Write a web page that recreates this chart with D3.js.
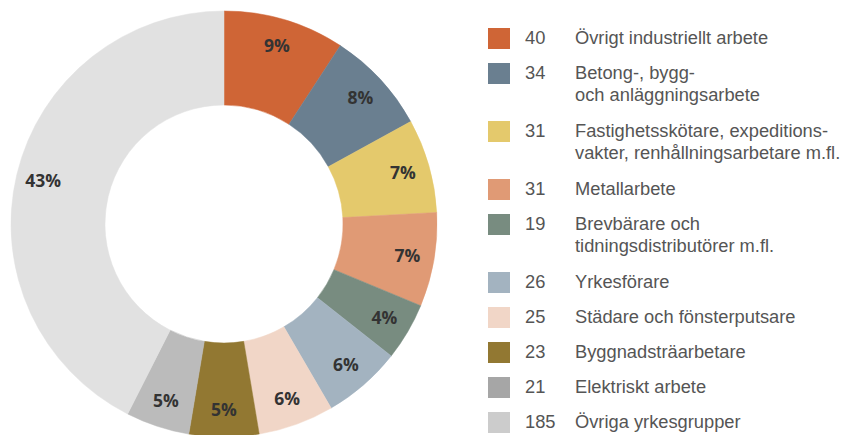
<!DOCTYPE html>
<html>
<head>
<meta charset="utf-8">
<script src="https://cdn.jsdelivr.net/npm/d3@7"></script>
<style>
  body { margin: 0; background: #fff; }
  svg { display: block; }
</style>
</head>
<body>
<svg class="chart"></svg>
<script>
let categories = [
    ["Övrigt industriellt arbete"],
    ["Betong-, bygg-", "och anläggningsarbete"],
    ["Fastighetsskötare, expeditions-", "vakter, renhållningsarbetare m.fl."],
    ["Metallarbete"],
    ["Brevbärare och", "tidningsdistributörer m.fl."],
    ["Yrkesförare"],
    ["Städare och fönsterputsare"],
    ["Byggnadsträarbetare"],
    ["Elektriskt arbete"],
    ["Övriga yrkesgrupper"]
];
let counts = [40, 34, 31, 31, 19, 26, 25, 23, 21, 185];
let percentLabels = ["9%", "8%", "7%", "7%", "4%", "6%", "6%", "5%", "5%", "43%"];

let sliceColors = ["#cf6536", "#6a7f90", "#e4c96c", "#e09a75", "#788c80",
                   "#a3b3c0", "#f1d6c7", "#927832", "#bbbbbb", "#e1e1e1"];
let legendColors = ["#cf6536", "#6a7f90", "#e4c96c", "#e09a75", "#788c80",
                    "#a3b3c0", "#f1d6c7", "#927832", "#a6a6a6", "#cccccc"];

let svgWidth = 845, svgHeight = 435;
let cx = 224, cy = 224, outerR = 213, innerR = 119, labelR = 186;

let data = counts.map(function (d, i) {
    return { name: categories[i], value: d, pct: percentLabels[i], i: i };
});

let svg = d3.select('.chart')
    .attr("width", svgWidth)
    .attr("height", svgHeight);

// donut
let g = svg.append("g")
    .attr("transform", "translate(" + cx + "," + cy + ")");

let pie = d3.pie().sort(null).value(function (d) { return d.value; });

let arc = d3.arc().outerRadius(outerR).innerRadius(innerR);
let labelArc = d3.arc().outerRadius(labelR).innerRadius(labelR);

let slices = g.selectAll(".slice")
    .data(pie(data))
    .enter()
    .append("g")
    .attr("class", "slice");

slices.append("path")
    .attr("d", arc)
    .attr("fill", function (d) { return sliceColors[d.data.i]; })
    .attr("stroke", function (d) { return sliceColors[d.data.i]; })
    .attr("stroke-width", 0.5);

slices.append("text")
    .attr("transform", function (d) { return "translate(" + labelArc.centroid(d) + ")"; })
    .attr("text-anchor", "middle")
    .attr("dy", "0.36em")
    .style("font-family", "'Open Sans', sans-serif")
    .style("font-weight", "bold")
    .style("font-size", "17.5px")
    .style("fill", "#333")
    .text(function (d) { return d.data.pct; });

// legend
let rowGap = 35, lineH = 22, extraLine = 23;
let rowY = [];
let y = 38;
data.forEach(function (d) {
    rowY.push(y);
    y += rowGap + (d.name.length - 1) * extraLine;
});

let legend = svg.append("g").attr("class", "legend");

let rows = legend.selectAll(".row")
    .data(data)
    .enter()
    .append("g")
    .attr("class", "row")
    .attr("transform", function (d, i) { return "translate(488," + rowY[i] + ")"; });

rows.append("rect")
    .attr("x", 0)
    .attr("y", -10)
    .attr("width", 22)
    .attr("height", 21)
    .attr("fill", function (d) { return legendColors[d.i]; });

rows.append("text")
    .attr("x", 37)
    .attr("y", 0)
    .attr("dy", "0.35em")
    .style("font-family", "'Liberation Sans', Arial, sans-serif")
    .style("font-size", "18.3px")
    .style("fill", "#555")
    .text(function (d) { return d.value; });

rows.each(function (d) {
    let t = d3.select(this).append("text")
        .style("font-family", "'Liberation Sans', Arial, sans-serif")
        .style("font-size", "18.3px")
        .style("fill", "#555");
    d.name.forEach(function (line, j) {
        t.append("tspan")
            .attr("x", 87)
            .attr("y", j * lineH)
            .attr("dy", "0.35em")
            .text(line);
    });
});
</script>
</body>
</html>
